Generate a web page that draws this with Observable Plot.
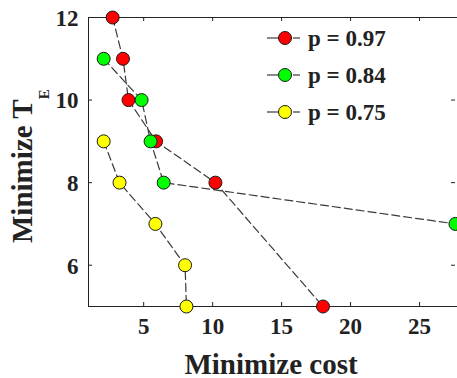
<!DOCTYPE html>
<html><head><meta charset="utf-8">
<script src="https://cdn.jsdelivr.net/npm/d3@7"></script>
<script src="https://cdn.jsdelivr.net/npm/@observablehq/plot@0.6"></script>
<style>
body{margin:0;background:#fff;}
#wrap{position:relative;width:457px;height:378px;overflow:hidden;}
</style></head><body><div id="wrap"></div>
<script>
// ---- data ----
const seriesNames = ["p = 0.97", "p = 0.84", "p = 0.75"];
const seriesColors = ["#ff0000", "#00ff00", "#ffff00"];
const costRed = [2.75, 3.5, 3.9, 5.9, 10.2, 18.0];
const teRed = [12, 11, 10, 9, 8, 5];
const costGreen = [2.1, 4.85, 5.5, 6.45, 27.6];
const teGreen = [11, 10, 9, 8, 7];
const costYellow = [2.1, 3.25, 5.85, 8.0, 8.1];
const teYellow = [9, 8, 7, 6, 5];
const xTicks = [5, 10, 15, 20, 25];
const yTicks = [6, 8, 10, 12];
const xDomain = [1, 27.75];
const yDomain = [5, 12];
const xLabel = "Minimize cost";
const yLabelMain = "Minimize T";
const yLabelSub = "E";

// ---- build rows ----
const costs = [costRed, costGreen, costYellow];
const tes = [teRed, teGreen, teYellow];
const rows = [];
seriesNames.forEach((s, i) => costs[i].forEach((c, j) => rows.push({series: s, cost: c, te: tes[i][j]})));

const W = 457, H = 378, mL = 88, mR = 0, mT = 17, mB = 72;
const iw = W - mL - mR, ih = H - mT - mB;
const tickLen = 4;
const font = "Liberation Serif";
const ink = "#222222";

const plot = Plot.plot({
  width: W, height: H,
  marginLeft: mL, marginRight: mR, marginTop: mT, marginBottom: mB,
  x: {domain: xDomain, axis: null},
  y: {domain: yDomain, axis: null},
  color: {domain: seriesNames, range: seriesColors},
  style: {fontFamily: font, background: "white", overflow: "visible"},
  marks: [
    Plot.ruleX([xDomain[0]], {stroke: ink, strokeWidth: 1}),
    Plot.ruleY([yDomain[0]], {stroke: ink, strokeWidth: 1}),
    Plot.ruleY([yDomain[1]], {stroke: ink, strokeWidth: 1}),
    Plot.ruleX(xTicks, {x: d => d, insetTop: ih - tickLen, stroke: ink}),
    Plot.ruleX(xTicks, {x: d => d, insetBottom: ih - tickLen, stroke: ink}),
    Plot.ruleY(yTicks, {y: d => d, insetRight: iw - tickLen, stroke: ink}),
    Plot.ruleY(yTicks, {y: d => d, insetLeft: iw - tickLen - 2, insetRight: 2, stroke: ink}),
    Plot.text(xTicks, {x: d => d, text: d => String(d), frameAnchor: "bottom", dy: 27,
      fontSize: 23, fontWeight: "bold", fontFamily: font, fill: ink}),
    Plot.text(yTicks, {y: d => d, text: d => String(d), frameAnchor: "left", dx: -10, dy: 1, textAnchor: "end",
      fontSize: 23, fontWeight: "bold", fontFamily: font, fill: ink}),
    Plot.text([xLabel], {text: d => d, frameAnchor: "bottom", dy: 67, dx: -2, lineAnchor: "bottom",
      fontSize: 29, fontWeight: "bold", fontFamily: font, fill: ink}),
    Plot.line(rows, {x: "cost", y: "te", z: "series", stroke: "#3a3a3a", strokeWidth: 1.2,
      strokeDasharray: "8,4"}),
    Plot.dot(rows, {x: "cost", y: "te", fill: "series", r: 6.5, stroke: "#1a1a1a", strokeWidth: 1})
  ]
});

const svg = d3.select(plot);
const yl = svg.append("text")
  .attr("transform", "translate(32,243) rotate(-90)")
  .attr("text-anchor", "start")
  .attr("font-family", font)
  .attr("font-weight", "bold").attr("fill", ink)
  .attr("font-size", 29);
yl.append("tspan").text(yLabelMain);
yl.append("tspan").attr("dy", 17).attr("font-size", 15).text(yLabelSub);

const leg = svg.append("g");
seriesNames.forEach((name, i) => {
  const cy = 38 + i * 37;
  const g = leg.append("g");
  g.append("line").attr("x1", 267).attr("x2", 278).attr("y1", cy).attr("y2", cy)
    .attr("stroke", "#3a3a3a").attr("stroke-width", 1.2);
  g.append("line").attr("x1", 293).attr("x2", 300).attr("y1", cy).attr("y2", cy)
    .attr("stroke", "#3a3a3a").attr("stroke-width", 1.2);
  g.append("circle").attr("cx", 285).attr("cy", cy).attr("r", 6.5)
    .attr("fill", seriesColors[i]).attr("stroke", "#1a1a1a");
  g.append("text").attr("x", 308).attr("y", cy).attr("dy", "0.35em")
    .attr("text-anchor", "start").attr("font-family", font)
    .attr("font-weight", "bold").attr("font-size", 23)
    .attr("fill", ink).text(name);
});

document.getElementById("wrap").appendChild(plot);
</script>
</body></html>
